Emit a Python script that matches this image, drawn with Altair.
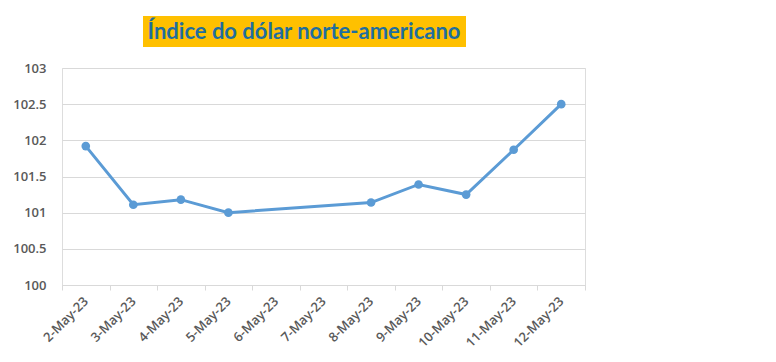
import altair as alt
import pandas as pd

categories = ["2-May-23", "3-May-23", "4-May-23", "5-May-23", "6-May-23", "7-May-23",
              "8-May-23", "9-May-23", "10-May-23", "11-May-23", "12-May-23"]
dates = ["2-May-23", "3-May-23", "4-May-23", "5-May-23",
         "8-May-23", "9-May-23", "10-May-23", "11-May-23", "12-May-23"]
values = [101.92, 101.11, 101.18, 101.00, 101.14, 101.39, 101.25, 101.87, 102.50]
y_ticks = [100, 100.5, 101, 101.5, 102, 102.5, 103]
title_text = "Índice do dólar norte-americano"

df = pd.DataFrame({"date": dates, "value": values})

FONT = "Open Sans"
LINE = "#5B9BD5"

base = alt.Chart(df).encode(
    x=alt.X("date:O", sort=categories, scale=alt.Scale(domain=categories, paddingInner=0, paddingOuter=0),
            axis=alt.Axis(title=None, labelAngle=-45, labelFont=FONT, labelFontSize=13,
                          labelColor="#595959", labelFontWeight=600, domainColor="#D9D9D9",
                          tickColor="#D9D9D9", tickBand="extent", tickSize=5, labelPadding=9,
                          labelBaseline="middle", labelAlign="right", grid=False)),
    y=alt.Y("value:Q", scale=alt.Scale(domain=[100, 103], nice=False, zero=False),
            axis=alt.Axis(title=None, values=y_ticks, labelFont=FONT, labelFontSize=13,
                          labelColor="#595959", labelFontWeight=600, domain=False, ticks=False,
                          labelExpr="'' + datum.value",
                          labelPadding=16, gridColor="#D9D9D9", gridWidth=1)),
)

line = base.mark_line(color=LINE, strokeWidth=3)
points = base.mark_circle(color=LINE, size=75, opacity=1)

title_df = pd.DataFrame({"t": [title_text]})
box = alt.Chart(title_df).mark_rect(color="#FFC000").encode(
    x=alt.value(81), x2=alt.value(404), y=alt.value(-52), y2=alt.value(-21)
)
title = alt.Chart(title_df).mark_text(font="Lato", fontSize=22, fontWeight="bold",
                                      color="#1F6E9E", align="center", baseline="middle").encode(
    text="t:N", x=alt.value(242), y=alt.value(-36)
)

chart = alt.layer(box, title, line, points).properties(
    width=523, height=217,
    autosize=alt.AutoSizeParams(type="none"),
    padding={"left": 54, "top": 60, "right": 183, "bottom": 69},
).configure_view(stroke=None).configure(background="white")

chart.save("out.html", embed_options={"renderer": "svg", "actions": False})
